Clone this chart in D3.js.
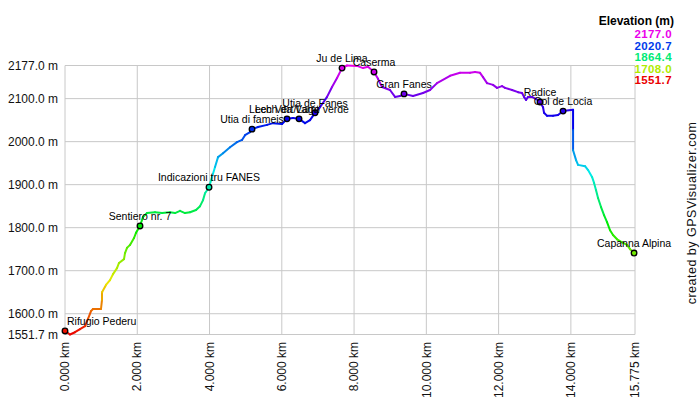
<!DOCTYPE html>
<html><head><meta charset="utf-8">
<script src="https://cdn.jsdelivr.net/npm/d3@7"></script>
<style>
body{margin:0;background:#fff;}
svg{display:block;font-family:"Liberation Sans",Arial,sans-serif;}
</style></head>
<body><svg id="c" width="700" height="400"></svg>
<script>
// profile: distance (km) and elevation (m)
const distKm = [0.000,0.138,0.277,0.415,0.554,0.637,0.720,0.775,0.996,1.024,1.024,1.135,1.245,1.329,1.439,1.495,1.633,1.661,1.716,1.799,1.910,1.965,2.076,2.159,2.270,2.491,2.685,2.906,3.045,3.183,3.321,3.460,3.626,3.737,3.820,3.875,3.986,4.069,4.152,4.235,4.373,4.567,4.761,4.899,4.982,5.120,5.176,5.342,5.591,5.757,6.006,6.144,6.310,6.477,6.643,6.781,6.919,7.058,7.252,7.390,7.529,7.667,7.805,8.082,8.248,8.386,8.552,8.663,8.774,8.995,9.134,9.272,9.383,9.632,9.909,10.102,10.296,10.656,10.933,11.210,11.348,11.486,11.569,11.680,11.846,11.957,12.095,12.178,12.372,12.538,12.649,12.704,12.760,12.815,12.926,13.036,13.147,13.230,13.258,13.341,13.507,13.645,13.784,14.061,14.061,14.061,14.144,14.199,14.393,14.476,14.586,14.642,14.697,14.752,14.835,14.918,15.001,15.084,15.167,15.278,15.417,15.555,15.638,15.775];
const elevM = [1560,1551.7,1557,1564,1571,1588,1606,1611,1611,1632,1650,1667,1678,1692,1706,1718,1727,1741,1753,1760,1776,1788,1804,1825,1834,1836,1834,1836,1834,1839,1834,1836,1841,1850,1864,1880,1894,1918,1941,1964,1973,1987,1999,2004,2015,2022,2029,2034,2039,2043,2041,2053,2055,2053,2043,2050,2067,2080,2104,2127,2148,2171,2177,2176,2171,2174,2162,2146,2127,2120,2104,2106,2111,2106,2113,2120,2136,2153,2160,2160,2162,2160,2150,2136,2132,2125,2129,2125,2120,2115,2113,2104,2097,2104,2104,2099,2092,2080,2067,2060,2060,2062,2071,2074,2027,1980,1957,1946,1943,1934,1918,1904,1887,1869,1848,1829,1813,1794,1783,1773,1766,1760,1750,1740];

const wptNames = ["Rifugio Pederu","Sentiero nr. 7","Indicazioni tru FANES","Utia di fameis","Lech da Varnt","Lech Vert/Lago verde","Utia de Fanes","Ju de Lima","Caserma","Gran Fanes","Radice","Col de Locia","Capanna Alpina"];
const wptKm = [0.000,2.076,3.986,5.176,6.144,6.477,6.919,7.667,8.552,9.383,13.147,13.784,15.749];
const wptElev = [1560,1804,1894,2029,2053,2053,2067,2171,2162,2111,2092,2071,1741];

const yTicks = [1551.7,1600,1700,1800,1900,2000,2100,2177];
const xTicks = [0,2,4,6,8,10,12,14,15.775];
const legendTitle = "Elevation (m)";
const legendVals = [2177.0,2020.7,1864.4,1708.0,1551.7];
const credit = "created by GPSVisualizer.com";

const svg = d3.select("#c");
const x = d3.scaleLinear().domain([0,15.775]).range([65,635]);
const y = d3.scaleLinear().domain([1551.7,2177]).range([334.5,65.5]);
const hue = d3.scaleLinear().domain([1551.7,2177]).range([0,300]);
const col = e => d3.hsl(hue(e),1,0.46).formatHex();

// grid
const g = svg.append("g");
g.selectAll(".hy").data(yTicks).join("line")
  .attr("x1",x(0)).attr("x2",x(15.775)).attr("y1",d=>y(d)).attr("y2",d=>y(d))
  .attr("stroke","#c8c8c8").attr("stroke-width",1);
g.selectAll(".vx").data(xTicks).join("line")
  .attr("x1",d=>x(d)).attr("x2",d=>x(d)).attr("y1",y(1551.7)).attr("y2",y(2177))
  .attr("stroke","#c8c8c8").attr("stroke-width",1);

// axis labels
g.selectAll(".yl").data(yTicks).join("text")
  .attr("x",58).attr("y",d=>y(d)).attr("dy","0.35em").attr("text-anchor","end")
  .attr("font-size",12).attr("fill","#111").text(d=>d.toFixed(1)+" m");
g.selectAll(".xl").data(xTicks).join("text")
  .attr("transform",d=>`translate(${x(d)},342) rotate(-90)`)
  .attr("dy","0.35em").attr("text-anchor","end")
  .attr("font-size",12).attr("fill","#111").text(d=>d.toFixed(3)+" km");

// profile segments coloured by elevation
const pts = distKm.map((d,i)=>[d,elevM[i]]);
const segs = d3.pairs(pts);
svg.append("g").selectAll("line").data(segs).join("line")
  .attr("x1",d=>x(d[0][0])).attr("y1",d=>y(d[0][1]))
  .attr("x2",d=>x(d[1][0])).attr("y2",d=>y(d[1][1]))
  .attr("stroke",d=>col((d[0][1]+d[1][1])/2))
  .attr("stroke-width",2).attr("stroke-linecap","round");

// waypoints
const wpts = wptNames.map((n,i)=>({n,k:wptKm[i],e:wptElev[i]}));
const wg = svg.append("g");
wg.selectAll("circle").data(wpts).join("circle")
  .attr("cx",d=>x(d.k)).attr("cy",d=>y(d.e)).attr("r",2.8)
  .attr("fill",d=>col(d.e)).attr("stroke","#000").attr("stroke-width",1.3);
wg.selectAll("text").data(wpts).join("text")
  .attr("font-size",10.5).attr("fill","#000")
  .attr("y",d=>y(d.e)-6)
  .text(d=>d.n)
  .each(function(d){
    const w=this.getComputedTextLength();
    let lx=x(d.k)-w/2;
    if(lx<x(0)+2) lx=x(0)+2;
    d3.select(this).attr("x",lx);
  });

// legend
svg.append("text").attr("x",674).attr("y",25).attr("text-anchor","end")
  .attr("font-size",12).attr("font-weight","bold").attr("fill","#000").text(legendTitle);
svg.selectAll(".lv").data(legendVals).join("text")
  .attr("x",672).attr("y",(d,i)=>38+i*11.6).attr("text-anchor","end")
  .attr("font-size",11.5).attr("font-weight","bold").attr("letter-spacing","0.4px")
  .attr("fill",d=>col(d)).text(d=>d.toFixed(1));

// credit
svg.append("text").attr("transform","translate(692,213) rotate(-90)")
  .attr("text-anchor","middle").attr("dy","0.35em")
  .attr("font-size",12.5).attr("letter-spacing","0.5px").attr("fill","#111").text(credit);
</script></body></html>
